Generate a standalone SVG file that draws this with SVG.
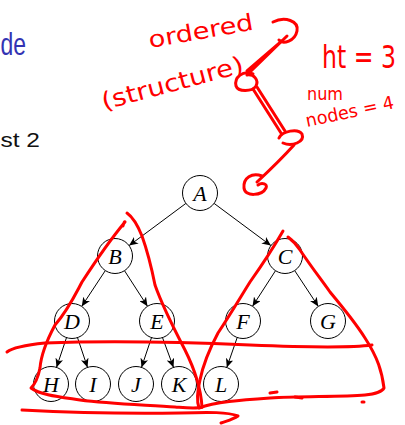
<svg xmlns="http://www.w3.org/2000/svg" width="405" height="425" viewBox="0 0 405 425">
<defs>
<marker id="arr" markerUnits="userSpaceOnUse" markerWidth="10" markerHeight="8" refX="9" refY="4" orient="auto">
<path d="M0,0 L9,4 L0,8 L2.5,4 z" fill="#000"/>
</marker>
<style>
.nd circle{fill:#fff;stroke:#000;stroke-width:1}
.nd text{font-family:"Liberation Serif",serif;font-style:italic;font-size:22px;text-anchor:middle;fill:#000}
.ed line{stroke:#000;stroke-width:1;marker-end:url(#arr)}
.ink{fill:none;stroke:#f00;stroke-width:3;stroke-linecap:round;stroke-linejoin:round}
.hw{font-family:"DejaVu Sans",sans-serif;fill:#f00}
</style>
</defs>
<rect width="405" height="425" fill="#fff"/>
<text x="0.5" y="55" font-family="Liberation Sans, sans-serif" font-size="32" fill="#3333b3" textLength="25.5" lengthAdjust="spacingAndGlyphs">de</text>
<text x="0.5" y="147" font-family="Liberation Sans, sans-serif" font-size="21" fill="#111" textLength="39.5" lengthAdjust="spacingAndGlyphs">st 2</text>

<g id="connectors" class="ed">
<line x1="185.9" y1="203.4" x2="129.1" y2="245.6"/>
<line x1="214.1" y1="203.4" x2="270.9" y2="245.6"/>
<line x1="105.3" y1="270.6" x2="81.7" y2="306.4"/>
<line x1="124.5" y1="270.7" x2="147.5" y2="306.3"/>
<line x1="275.5" y1="270.7" x2="252.5" y2="306.3"/>
<line x1="294.7" y1="270.6" x2="318.3" y2="306.4"/>
<line x1="66.5" y1="337.6" x2="56.5" y2="367.4"/>
<line x1="77.5" y1="337.6" x2="87.5" y2="367.4"/>
<line x1="151.5" y1="337.6" x2="141.5" y2="367.4"/>
<line x1="162.5" y1="337.6" x2="173.5" y2="367.4"/>
<line x1="237.2" y1="337.5" x2="226.8" y2="367.5"/>
</g>

<g id="A" class="nd"><circle cx="200" cy="193" r="17.5"/><text x="200" y="200.5">A</text></g>
<g id="B" class="nd"><circle cx="115" cy="256" r="17.5"/><text x="115" y="263.5">B</text></g>
<g id="C" class="nd"><circle cx="285" cy="256" r="17.5"/><text x="285" y="263.5">C</text></g>
<g id="D" class="nd"><circle cx="72" cy="321" r="17.5"/><text x="72" y="328.5">D</text></g>
<g id="E" class="nd"><circle cx="157" cy="321" r="17.5"/><text x="157" y="328.5">E</text></g>
<g id="F" class="nd"><circle cx="243" cy="321" r="17.5"/><text x="243" y="328.5">F</text></g>
<g id="G" class="nd"><circle cx="328" cy="321" r="17.5"/><text x="328" y="328.5">G</text></g>
<g id="H" class="nd"><circle cx="51" cy="384" r="17.5"/><text x="51" y="391.5">H</text></g>
<g id="I" class="nd"><circle cx="93" cy="384" r="17.5"/><text x="93" y="391.5">I</text></g>
<g id="J" class="nd"><circle cx="136" cy="384" r="17.5"/><text x="136" y="391.5">J</text></g>
<g id="K" class="nd"><circle cx="179" cy="384" r="17.5"/><text x="179" y="391.5">K</text></g>
<g id="L" class="nd"><circle cx="221" cy="384" r="17.5"/><text x="221" y="391.5">L</text></g>

<g id="annotations">
<text class="hw" x="150" y="48" font-size="23" textLength="106" lengthAdjust="spacingAndGlyphs" transform="rotate(-10 150 48)">ordered</text>
<text class="hw" x="104" y="110" font-size="24" textLength="146" lengthAdjust="spacingAndGlyphs" transform="rotate(-15 104 110)">(structure)</text>
<text class="hw" x="0" y="0" font-size="24" textLength="74" lengthAdjust="spacingAndGlyphs" transform="translate(322 68) scale(1 1.3)">ht = 3</text>
<text class="hw" x="307" y="100" font-size="17" textLength="36" lengthAdjust="spacingAndGlyphs">num</text>
<text class="hw" x="307" y="127" font-size="18" textLength="90" lengthAdjust="spacingAndGlyphs" transform="rotate(-12 307 127)">nodes = 4</text>

<path class="ink" d="M273,22 C285,16 299,21 297,31 C295,41 283,45 279,40"/>
<path class="ink" d="M287,36 L250,72 M283,40 L247,71" stroke-width="2"/>
<path class="ink" d="M253,74 C243,70 234,77 236,86 C238,92 252,92 256,86 C259,80 254,74 247,75"/>
<path class="ink" d="M253,89 L281,133 M257,87 L285,131" stroke-width="2"/>
<path class="ink" d="M279,138 C282,131 298,128 302,134 C305,142 292,147 283,143"/>
<path class="ink" d="M294,145 C285,155 272,168 257,182"/>
<path class="ink" d="M262,176 C252,172 243,178 244,188 C245,197 262,196 266,188 C268,184 262,182 258,185"/>

<path class="ink" d="M123,226 C124,222 125,221 125,222 C110,240 95,262 82,282 C75,295 68,310 55,325 C47,340 41,355 40,368 C38,378 34,385 31,388 C40,395 60,397 80,400 C110,404 150,405 175,407 C188,408 197,409 202,407"/>
<path class="ink" d="M127,213 C134,218 138,226 142,236 C147,250 151,265 155,285 C162,305 172,325 185,350 C195,370 201,390 202,407"/>
<path class="ink" d="M283,231 C275,245 262,265 250,282 C240,298 230,315 218,333 C210,348 203,365 200,380 C197,392 197,402 199,408 C215,402 240,400 270,398 C300,396 340,397 365,395 C375,394 382,392 384,388 C382,372 378,358 365,338 C355,322 345,310 330,292 C320,278 310,265 300,250 C296,244 292,240 288,237"/>
<path class="ink" d="M7,352 C12,348 25,345 45,343 C100,341 180,342 250,345 C300,347 350,348 372,345"/>
<path class="ink" d="M22,410 C60,412 120,414 180,413 C210,412 228,412 238,416 C232,420 226,421 221,423"/>
<path class="ink" d="M270,393 L277,392 M295,397 L302,398 M362,402 L364,402"/>
</g>
</svg>
